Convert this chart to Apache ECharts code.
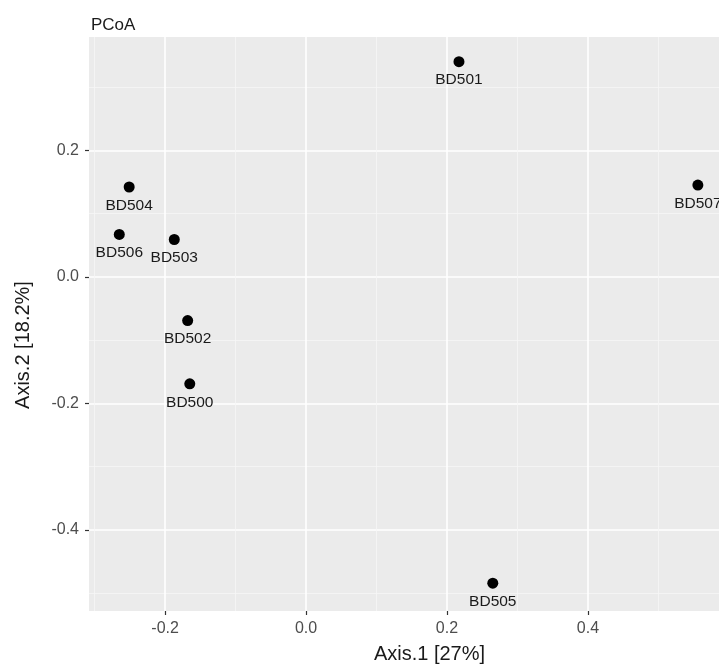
<!DOCTYPE html>
<html>
<head>
<meta charset="utf-8">
<script src="https://cdn.jsdelivr.net/npm/echarts@6/dist/echarts.min.js"></script>
<style>html,body{margin:0;padding:0;background:#fff}#c{width:719px;height:670px}</style>
</head>
<body>
<div id="c"></div>
<script>
// Data
const samples = ['BD500','BD501','BD502','BD503','BD504','BD505','BD506','BD507'];
const axis1 = [-0.165, 0.217, -0.168, -0.187, -0.251, 0.265, -0.265, 0.556];
const axis2 = [-0.169, 0.340, -0.069, 0.059, 0.142, -0.484, 0.067, 0.145];
const xMajorTicks = [-0.2, 0.0, 0.2, 0.4];
const xMinorTicks = [-0.3, -0.1, 0.1, 0.3, 0.5];
const yMajorTicks = [-0.4, -0.2, 0.0, 0.2];
const yMinorTicks = [-0.5, -0.3, -0.1, 0.1, 0.3];
const xRange = [-0.308, 0.586];
const yRange = [-0.528, 0.379];

const font = '"Liberation Sans", Arial, sans-serif';

const chart = echarts.init(document.getElementById('c'), null, {renderer: 'canvas'});
const points = samples.map((s, i) => ({name: s, value: [axis1[i], axis2[i]]}));

function majorAxis(range, ticks, pos) {
  return {
    type: 'value', min: range[0], max: range[1], position: pos,
    axisLine: {show: false, onZero: false},
    axisTick: {show: true, length: 4, customValues: ticks, lineStyle: {color: '#333333', width: 1.2}},
    axisLabel: {customValues: ticks, color: '#4d4d4d', fontFamily: font, fontSize: 16,
                formatter: v => v.toFixed(1)},
    splitLine: {show: true, lineStyle: {color: '#ffffff', width: 1.6}}
  };
}
function minorAxis(range, ticks, pos) {
  return {
    type: 'value', min: range[0], max: range[1], position: pos,
    axisLine: {show: false, onZero: false},
    axisTick: {show: false, customValues: ticks},
    axisLabel: {show: false, customValues: ticks},
    splitLine: {show: true, lineStyle: {color: '#f6f6f6', width: 0.8}}
  };
}

const xMain = majorAxis(xRange, xMajorTicks, 'bottom');
xMain.axisLabel.margin = 10;
xMain.name = 'Axis.1 [27%]';
xMain.nameLocation = 'middle';
xMain.nameGap = 33;
xMain.nameTextStyle = {fontFamily: font, fontSize: 20, color: '#1a1a1a', padding: [0, 0, 0, 51]};

const yMain = majorAxis(yRange, yMajorTicks, 'left');
yMain.axisLabel.margin = 10;
yMain.name = 'Axis.2 [18.2%]';
yMain.nameLocation = 'middle';
yMain.nameGap = 56;
yMain.nameTextStyle = {fontFamily: font, fontSize: 20, color: '#1a1a1a', padding: [0, 42, 0, 0]};

chart.setOption({
  animation: false,
  backgroundColor: '#ffffff',
  title: {text: 'PCoA', left: 86, top: 12,
          textStyle: {fontFamily: font, fontSize: 17, fontWeight: 'normal', color: '#1a1a1a'}},
  grid: {left: 89, right: 0, top: 37, bottom: 59, show: true, backgroundColor: '#ebebeb',
         borderWidth: 0, containLabel: false, outerBoundsMode: 'none'},
  xAxis: [minorAxis(xRange, xMinorTicks, 'bottom'), xMain],
  yAxis: [minorAxis(yRange, yMinorTicks, 'left'), yMain],
  series: [{
    type: 'scatter', xAxisIndex: 1, yAxisIndex: 1,
    data: points,
    symbolSize: 11,
    itemStyle: {color: '#000000', opacity: 1},
    label: {show: true, position: 'bottom', distance: 5, formatter: p => p.name,
            fontFamily: font, fontSize: 15.5, color: '#1a1a1a'}
  }]
});
</script>
</body>
</html>
